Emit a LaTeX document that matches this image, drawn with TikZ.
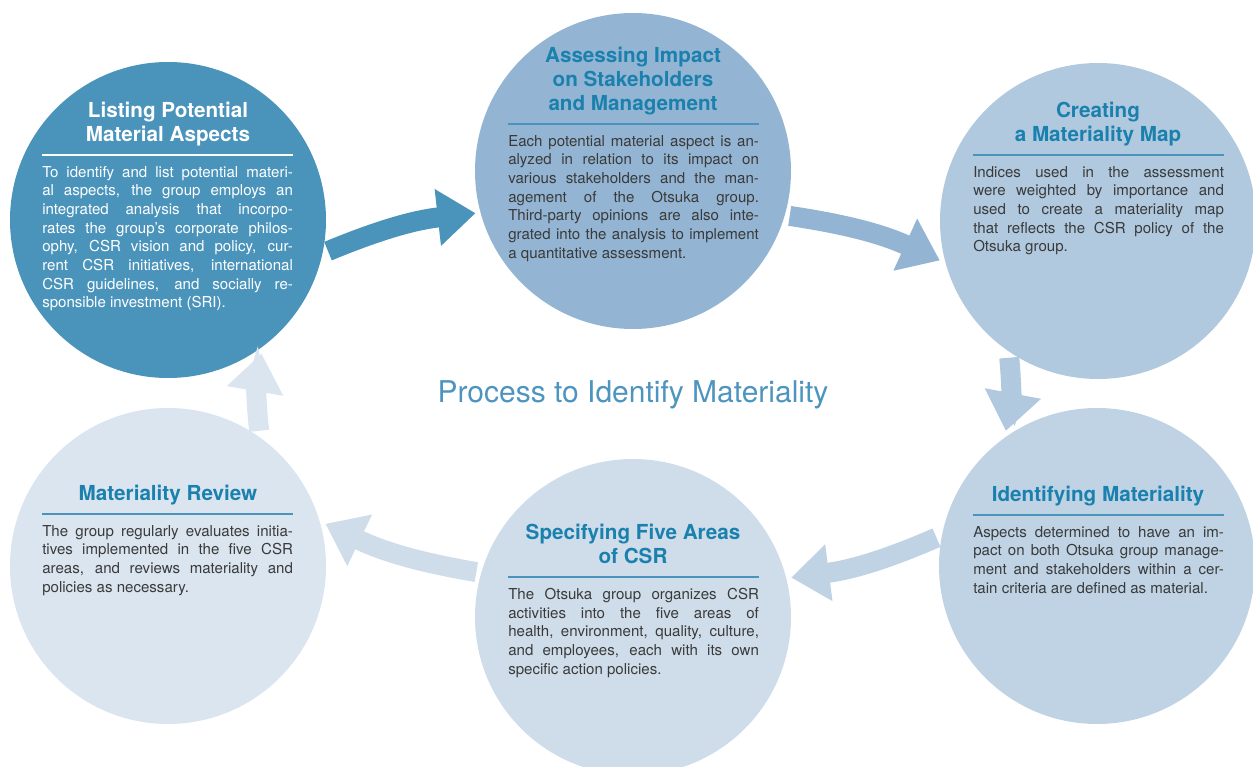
\documentclass[tikz,border=0pt]{standalone}
\usepackage{fontspec}
\setmainfont{TeX Gyre Heros}
\usetikzlibrary{arrows.meta}

\definecolor{c1}{RGB}{74,148,188}
\definecolor{c2}{RGB}{147,181,211}
\definecolor{c3}{RGB}{176,201,222}
\definecolor{c4}{RGB}{191,211,229}
\definecolor{c5}{RGB}{207,221,234}
\definecolor{c6}{RGB}{218,229,240}
\definecolor{headcol}{RGB}{26,128,173}
\definecolor{bodycol}{RGB}{58,58,58}
\definecolor{maintitle}{RGB}{77,148,190}

% one justified line of body text
\newcommand{\jrow}[1]{\makebox[188pt][s]{#1}}

\tikzset{
  disc/.style={circle,minimum size=237pt,inner sep=0pt,outer sep=3.75pt},
  heading/.style={font=\fontsize{15.5}{18}\selectfont\bfseries,text=headcol,
    align=center,anchor=south,text depth=0pt,inner sep=0pt},
  body/.style={font=\fontsize{11.3}{14}\selectfont,text=bodycol,
    align=left,anchor=north west,inner sep=0pt},
  sep/.style={draw=c1,line width=1.5pt},
  flow/.style={line width=15pt,-{Triangle[length=28.5pt,width=41pt]},bend left=8},
}

\begin{document}
\begin{tikzpicture}[x=0.75pt,y=-0.75pt]
  \useasboundingbox (0,0) rectangle (1253,767);

  \node [disc,fill=c1] (1) at (168,220) {};
  \node [disc,fill=c2] (2) at (633,171) {};
  \node [disc,fill=c3] (3) at (1098,221) {};
  \node [disc,fill=c4] (4) at (1097,566) {};
  \node [disc,fill=c5] (5) at (633,617) {};
  \node [disc,fill=c6] (6) at (168,566) {};

  \draw[flow,c1] (1.-11) to (2.195);
  \draw[flow,c2] (2.-16) to (3.194);
  \draw[flow,c3] (3.237) to (4.124);
  \draw[flow,c4] (4.170) to (5.14);
  \draw[flow,c5] (5.164) to (6.15);
  \draw[flow,c6] (6.56) to (1.-55);

  % Listing
  \node [heading,text=white] (1t) at (168,142) {Listing Potential\\Material Aspects};
  \draw[sep,draw=white] (42,155) -- ++(251,0);
  \node [body,text=white] (1b) at (42,166) {\jrow{To identify and list potential materi-}\\
    \jrow{al aspects, the group employs an}\\ \jrow{integrated analysis that incorpo-}\\
    \jrow{rates the group's corporate philos-}\\ \jrow{ophy, CSR vision and policy, cur-}\\
    \jrow{rent CSR initiatives, international}\\ \jrow{CSR guidelines, and socially re-}\\
    sponsible investment (SRI).};

  % Assessing
  \node [heading] (2t) at (633,111) {Assessing Impact\\on Stakeholders\\and Management};
  \draw[sep] (508,124) -- ++(251,0);
  \node [body] (2b) at (508,135) {\jrow{Each potential material aspect is an-}\\
    \jrow{alyzed in relation to its impact on}\\ \jrow{various stakeholders and the man-}\\
    \jrow{agement of the Otsuka group.}\\ \jrow{Third-party opinions are also inte-}\\
    \jrow{grated into the analysis to implement}\\ a quantitative assessment.};

  % Creating
  \node [heading] (3t) at (1098,142) {Creating\\a Materiality Map};
  \draw[sep] (973,155) -- ++(251,0);
  \node [body] (3b) at (973,166) {\jrow{Indices used in the assessment}\\
    \jrow{were weighted by importance and}\\ \jrow{used to create a materiality map}\\
    \jrow{that reflects the CSR policy of the}\\ Otsuka group.};

  % Identifying
  \node [heading] (4t) at (1098,502) {Identifying Materiality};
  \draw[sep] (973,515) -- ++(251,0);
  \node [body] (4b) at (973,526) {\jrow{Aspects determined to have an im-}\\
    \jrow{pact on both Otsuka group manage-}\\ \jrow{ment and stakeholders within a cer-}\\
    tain criteria are defined as material.};

  % Specifying
  \node [heading] (5t) at (633,564) {Specifying Five Areas\\of CSR};
  \draw[sep] (508,577) -- ++(251,0);
  \node [body] (5b) at (508,588) {\jrow{The Otsuka group organizes CSR}\\
    \jrow{activities into the five areas of}\\ \jrow{health, environment, quality, culture,}\\
    \jrow{and employees, each with its own}\\ specific action policies.};

  % Review
  \node [heading] (6t) at (168,501) {Materiality Review};
  \draw[sep] (42,514) -- ++(251,0);
  \node [body] (6b) at (42,525) {\jrow{The group regularly evaluates initia-}\\
    \jrow{tives implemented in the five CSR}\\ \jrow{areas, and reviews materiality and}\\
    policies as necessary.};

  \node [font=\fontsize{22.5}{26}\selectfont,text=maintitle,anchor=base] (title) at (633,402)
    {Process to Identify Materiality};
\end{tikzpicture}
\end{document}
